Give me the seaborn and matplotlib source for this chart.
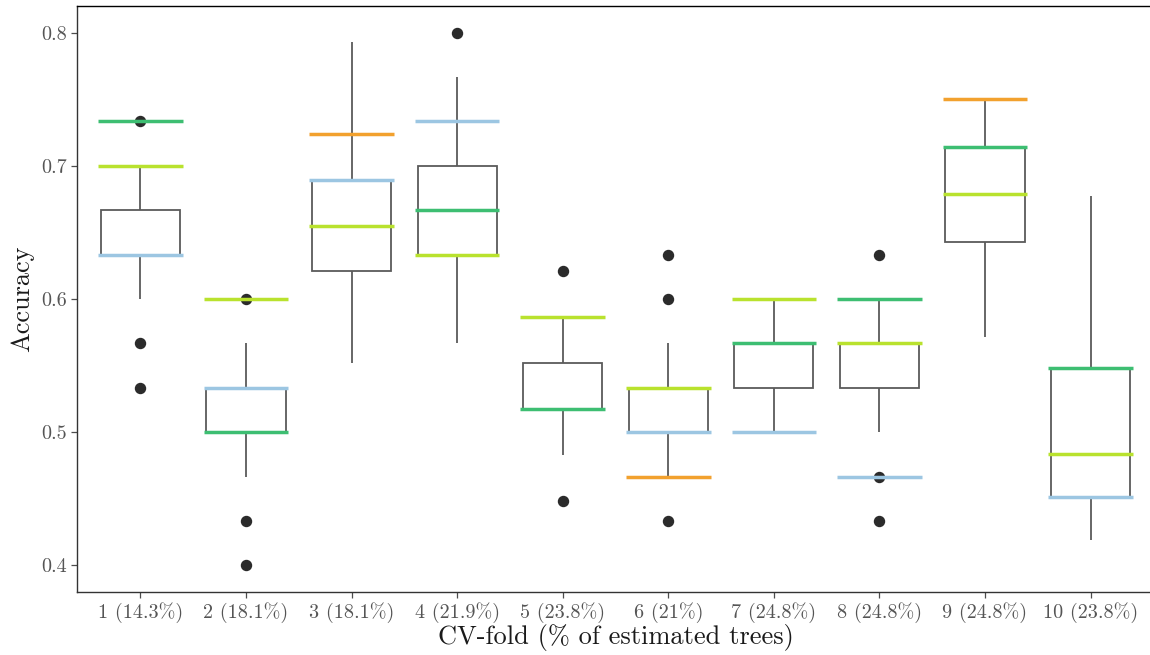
import numpy as np
import pandas as pd
import matplotlib
matplotlib.use("Agg")
import matplotlib.pyplot as plt
import seaborn as sns

# Fold labels (share of estimated trees per CV fold)
folds = ["1 (14.3%)", "2 (18.1%)", "3 (18.1%)", "4 (21.9%)", "5 (23.8%)",
         "6 (21%)", "7 (24.8%)", "8 (24.8%)", "9 (24.8%)", "10 (23.8%)"]

# Test-set size of each fold
fold_size = [30, 30, 29, 30, 29, 30, 30, 30, 28, 31]

# Correct predictions of each estimated tree, per fold
tree_correct = [
    [16, 17, 18, 18, 19, 19, 19, 19, 19, 19, 19, 19, 20, 20, 20, 20, 20, 20, 21, 21, 22],
    [12, 13, 14, 14, 15, 15, 15, 15, 15, 15, 16, 16, 16, 16, 16, 16, 16, 17, 17, 17, 18],
    [16, 17, 17, 18, 18, 18, 18, 19, 19, 19, 19, 19, 19, 20, 20, 20, 20, 21, 21, 22, 23],
    [17, 18, 18, 19, 19, 19, 19, 20, 20, 20, 20, 20, 20, 21, 21, 21, 21, 22, 22, 23, 24],
    [13, 14, 14, 15, 15, 15, 15, 15, 15, 15, 15, 16, 16, 16, 16, 16, 16, 17, 17, 17, 18],
    [13, 14, 14, 15, 15, 15, 15, 15, 15, 15, 16, 16, 16, 16, 16, 16, 17, 17, 17, 18, 19],
    [15, 15, 16, 16, 16, 16, 16, 16, 16, 17, 17, 17, 17, 17, 17, 17, 17, 18, 18, 18, 18],
    [13, 14, 15, 16, 16, 16, 16, 16, 16, 17, 17, 17, 17, 17, 17, 17, 18, 18, 18, 18, 19],
    [16, 17, 17, 18, 18, 18, 18, 19, 19, 19, 19, 19, 19, 20, 20, 20, 20, 20, 21, 21, 21],
    [13, 13, 14, 14, 14, 14, 14, 15, 15, 15, 15, 16, 16, 16, 17, 17, 17, 18, 19, 20, 21],
]

# Correct predictions of the reference models, per fold (nan = not shown)
nan = np.nan
ref_orange = [nan, nan, 21, nan, nan, 14, nan, nan, 21, nan]
ref_lime = [21, 18, 19, 19, 17, 16, 18, 17, 19, 15]
ref_green = [22, 15, nan, 20, 15, nan, 17, 18, 20, 17]
ref_blue = [19, 16, 20, 22, nan, 15, 15, 14, nan, 14]

ref_series = [
    (ref_orange, "#F2A12E"),
    (ref_blue, "#9CC6E2"),
    (ref_green, "#3DBE72"),
    (ref_lime, "#B9E22E"),
]

rows = []
for label, n, counts in zip(folds, fold_size, tree_correct):
    for k in counts:
        rows.append({"fold": label, "accuracy": k / n})
df = pd.DataFrame(rows)

sns.set_style("white")
plt.rcParams["font.family"] = ["cmr10", "DejaVu Serif"]
plt.rcParams["mathtext.fontset"] = "cm"
plt.rcParams["axes.formatter.use_mathtext"] = True

fig = plt.figure(figsize=(11.5, 6.55), dpi=100)
ax = fig.add_axes([77 / 1150, 1 - 592 / 655, (1154 - 77) / 1150, (592 - 6) / 655])

box_grey = "#5a5a5a"
sns.boxplot(
    data=df, x="fold", y="accuracy", order=folds, ax=ax,
    color="white", saturation=1, width=0.75, whis=1.5,
    linecolor=box_grey, linewidth=1.3, showcaps=False,
    flierprops={"marker": "o", "markersize": 7.2,
                "markerfacecolor": "#2b2b2b", "markeredgecolor": "#2b2b2b"},
    medianprops={"color": box_grey, "linewidth": 1.3},
)

for values, col in ref_series:
    for i, (k, n) in enumerate(zip(values, fold_size)):
        if np.isnan(k):
            continue
        ax.hlines(k / n, i - 0.4, i + 0.4, colors=col, linewidth=2.5, zorder=5)

ax.set_xlim(-0.6, 9.6)
ax.set_ylim(0.38, 0.82)
ax.set_yticks([0.4, 0.5, 0.6, 0.7, 0.8])
ax.set_yticklabels(["0.4", "0.5", "0.6", "0.7", "0.8"])

for side in ["top", "right", "left", "bottom"]:
    ax.spines[side].set_visible(True)
    ax.spines[side].set_color("#333333")
    ax.spines[side].set_linewidth(1.0)
ax.spines["top"].set_color("#000000")

ax.tick_params(axis="both", which="major", direction="out", length=4,
               width=0.9, color="#4d4d4d", labelcolor="#555555",
               labelsize=14.5, left=True, bottom=True, pad=3)
ax.set_xlabel("CV-fold (% of estimated trees)", fontsize=19, color="#1a1a1a", labelpad=1)
ax.set_ylabel("Accuracy", fontsize=19, color="#1a1a1a", labelpad=5)

fig.savefig("out.png", dpi=100)
